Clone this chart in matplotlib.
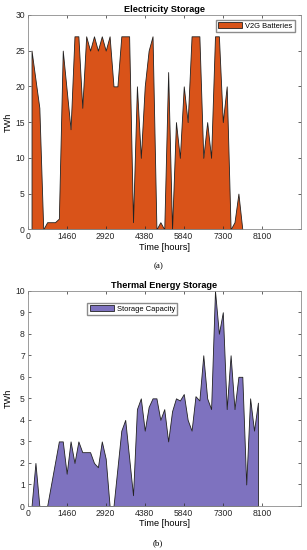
import matplotlib
matplotlib.use("Agg")
import matplotlib.pyplot as plt

# time step between samples (hours)
step = 146

# Electricity storage (V2G batteries), sample index -> TWh
v2g_idx = [1, 3, 4, 5, 7, 8, 9, 11, 12, 13, 14, 15, 16, 17, 18, 19, 20, 21,
           22, 23, 24, 26, 27, 28, 29, 30, 31, 32, 33, 34, 35, 36, 37, 38, 39,
           40, 41, 42, 44, 45, 46, 47, 48, 49, 50, 51, 52, 53, 54, 55]
v2g_twh = [25, 17, 0, 1, 1, 1.5, 25, 14, 27, 27, 17, 27, 25, 27, 25, 27, 25, 27,
           20, 20, 27, 27, 1, 20, 10, 20, 25, 27, 0, 1, 0, 22, 0, 15, 10,
           20, 15, 27, 27, 10, 15, 10, 27, 27, 15, 20, 0, 1, 5, 0]

# Thermal energy storage capacity
tes_idx = [1, 2, 3, 5, 8, 9, 10, 11, 12, 13, 14, 16, 17, 18, 19, 20, 21, 22,
           24, 25, 27, 28, 29, 30, 31, 32, 33, 34, 35, 36, 37, 38, 39, 40, 41,
           42, 43, 44, 45, 46, 47, 48, 49, 50, 51, 52, 53, 54, 55, 56, 57, 58, 59]
tes_twh = [0, 2, 0, 0, 3, 3, 1.5, 3, 2, 3, 2.5, 2.5, 2, 1.8, 3, 2.2, 0, 0,
           3.5, 4, 0.5, 4.5, 5, 3.5, 4.6, 5, 5, 4, 4.5, 3, 4.4, 5, 4.9, 5.2, 4,
           3.5, 5.1, 4.9, 7, 5, 4.5, 10, 8, 9, 4.5, 7, 4.5, 6, 6, 1, 5, 3.5, 4.8]

xtick_labels = ["0", "1460", "2920", "4380", "5840", "7300", "8100"]

orange = "#D95319"
purple = "#7E72BF"

plt.rcParams["font.family"] = ["Liberation Sans", "DejaVu Sans"]

fig = plt.figure(figsize=(3.07, 5.50), dpi=100)
ax1 = fig.add_axes([0.090, 0.583, 0.890, 0.390])
ax2 = fig.add_axes([0.090, 0.080, 0.890, 0.3915])


def style(ax, ymax, ystep):
    ax.set_xlim(0, 7 * 1460)
    ax.set_ylim(0, ymax)
    ax.set_xticks([i * 1460 for i in range(len(xtick_labels))])
    ax.set_xticklabels(xtick_labels)
    ax.set_yticks([i * ystep for i in range(int(ymax / ystep) + 1)])
    ax.tick_params(direction="in", top=True, right=True, length=2.5,
                   width=0.5, labelsize=6.2, colors="#262626", pad=2)
    for s in ax.spines.values():
        s.set_color("#8c8c8c")
        s.set_linewidth(0.6)
    ax.set_xlabel("Time [hours]", fontsize=6.6, labelpad=1)
    ax.set_ylabel("TWh", fontsize=6.6, labelpad=2)


legend_kw = dict(fontsize=5.4, frameon=True, fancybox=False, edgecolor="#8c8c8c",
                 framealpha=1, borderpad=0.35, handlelength=3.2,
                 handletextpad=0.4, borderaxespad=0)

x1 = [k * step for k in v2g_idx]
ax1.fill_between(x1, v2g_twh, 0, facecolor=orange, edgecolor="#222222",
                 linewidth=0.6, label="V2G Batteries")
style(ax1, 30, 5)
ax1.set_title("Electricity Storage", fontsize=6.6, fontweight="bold", pad=2)
ax1.legend(loc="upper right", bbox_to_anchor=(0.979, 0.977), **legend_kw)

x2 = [k * step for k in tes_idx]
ax2.fill_between(x2, tes_twh, 0, facecolor=purple, edgecolor="#222222",
                 linewidth=0.6, label="Storage Capacity")
style(ax2, 10, 1)
ax2.set_title("Thermal Energy Storage", fontsize=6.6, fontweight="bold", pad=2)
ax2.legend(loc="upper left", bbox_to_anchor=(0.217, 0.944), **legend_kw)

fig.text(0.515, 1 - 266 / 550, "(a)", ha="center", va="center",
         fontsize=6.5, family=["Liberation Serif", "DejaVu Serif"])
fig.text(0.515, 1 - 543 / 550, "(b)", ha="center", va="center",
         fontsize=6.5, family=["Liberation Serif", "DejaVu Serif"])

fig.savefig("out.png", dpi=100)
